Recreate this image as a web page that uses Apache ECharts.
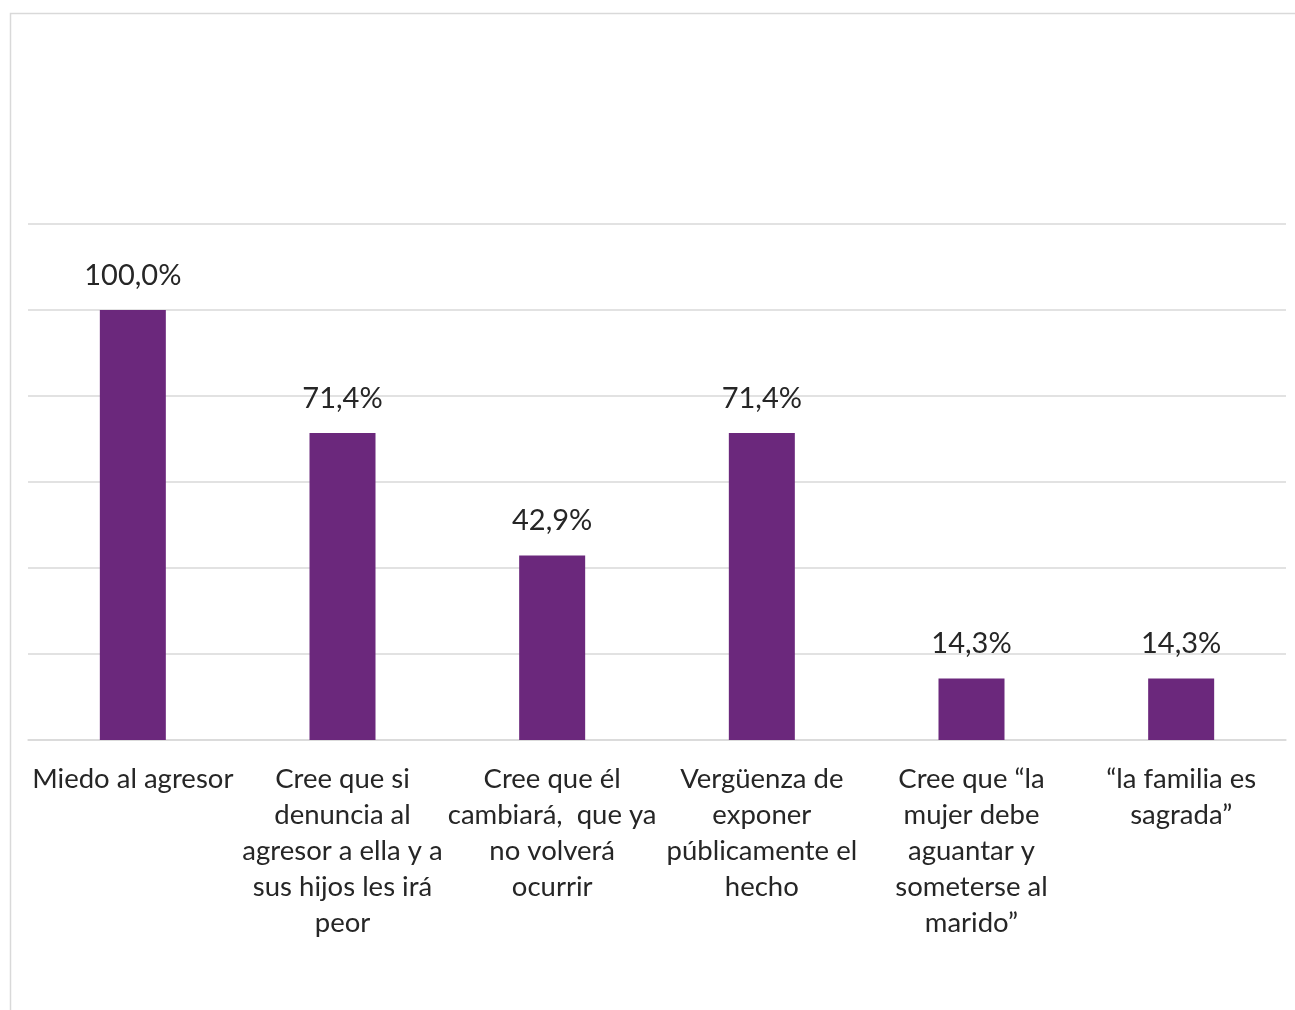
<!DOCTYPE html>
<html>
<head>
<meta charset="utf-8">
<script src="https://cdn.jsdelivr.net/npm/echarts@6/dist/echarts.min.js"></script>
<style>
html,body{margin:0;padding:0;background:#fff;}
#chart{width:1295px;height:1010px;}
</style>
</head>
<body>
<div id="chart"></div>
<script>
const categories = [
  "Miedo al agresor",
  "Cree que si\ndenuncia al\nagresor a ella y a\nsus hijos les irá\npeor",
  "Cree que él\ncambiará,  que ya\nno volverá\nocurrir",
  "Vergüenza de\nexponer\npúblicamente el\nhecho",
  "Cree que “la\nmujer debe\naguantar y\nsometerse al\nmarido”",
  "“la familia es\nsagrada”"
];
const values = [100.0, 71.4, 42.9, 71.4, 14.3, 14.3];

const chart = echarts.init(document.getElementById('chart'), null, {renderer: 'canvas'});
const font = 'Lato, Carlito, "Open Sans", sans-serif';
chart.setOption({
  animation: false,
  backgroundColor: '#fff',
  graphic: [{
    type: 'rect',
    shape: {x: 10.5, y: 13.5, width: 1300, height: 1010},
    style: {fill: 'none', stroke: '#d9d9d9', lineWidth: 1.5},
    silent: true
  }],
  grid: {left: 28, right: 9, top: 224, bottom: 270},
  xAxis: {
    type: 'category',
    data: categories,
    axisLine: {lineStyle: {color: '#d9d9d9', width: 1.5}},
    axisTick: {show: false},
    axisLabel: {
      interval: 0,
      margin: 21,
      color: '#262626',
      fontSize: 27.5,
      lineHeight: 36,
      fontFamily: font,
      align: 'center'
    }
  },
  yAxis: {
    type: 'value',
    min: 0, max: 120, interval: 20,
    axisLabel: {show: false},
    axisLine: {show: false},
    axisTick: {show: false},
    splitLine: {lineStyle: {color: '#d9d9d9', width: 1.5}}
  },
  series: [{
    type: 'bar',
    data: values,
    barWidth: 66,
    itemStyle: {color: '#6B287C'},
    label: {
      show: true,
      position: 'top',
      distance: 20,
      color: '#262626',
      fontSize: 29,
      fontFamily: font,
      formatter: p => p.value.toFixed(1).replace('.', ',') + '%'
    }
  }]
});
</script>
</body>
</html>
